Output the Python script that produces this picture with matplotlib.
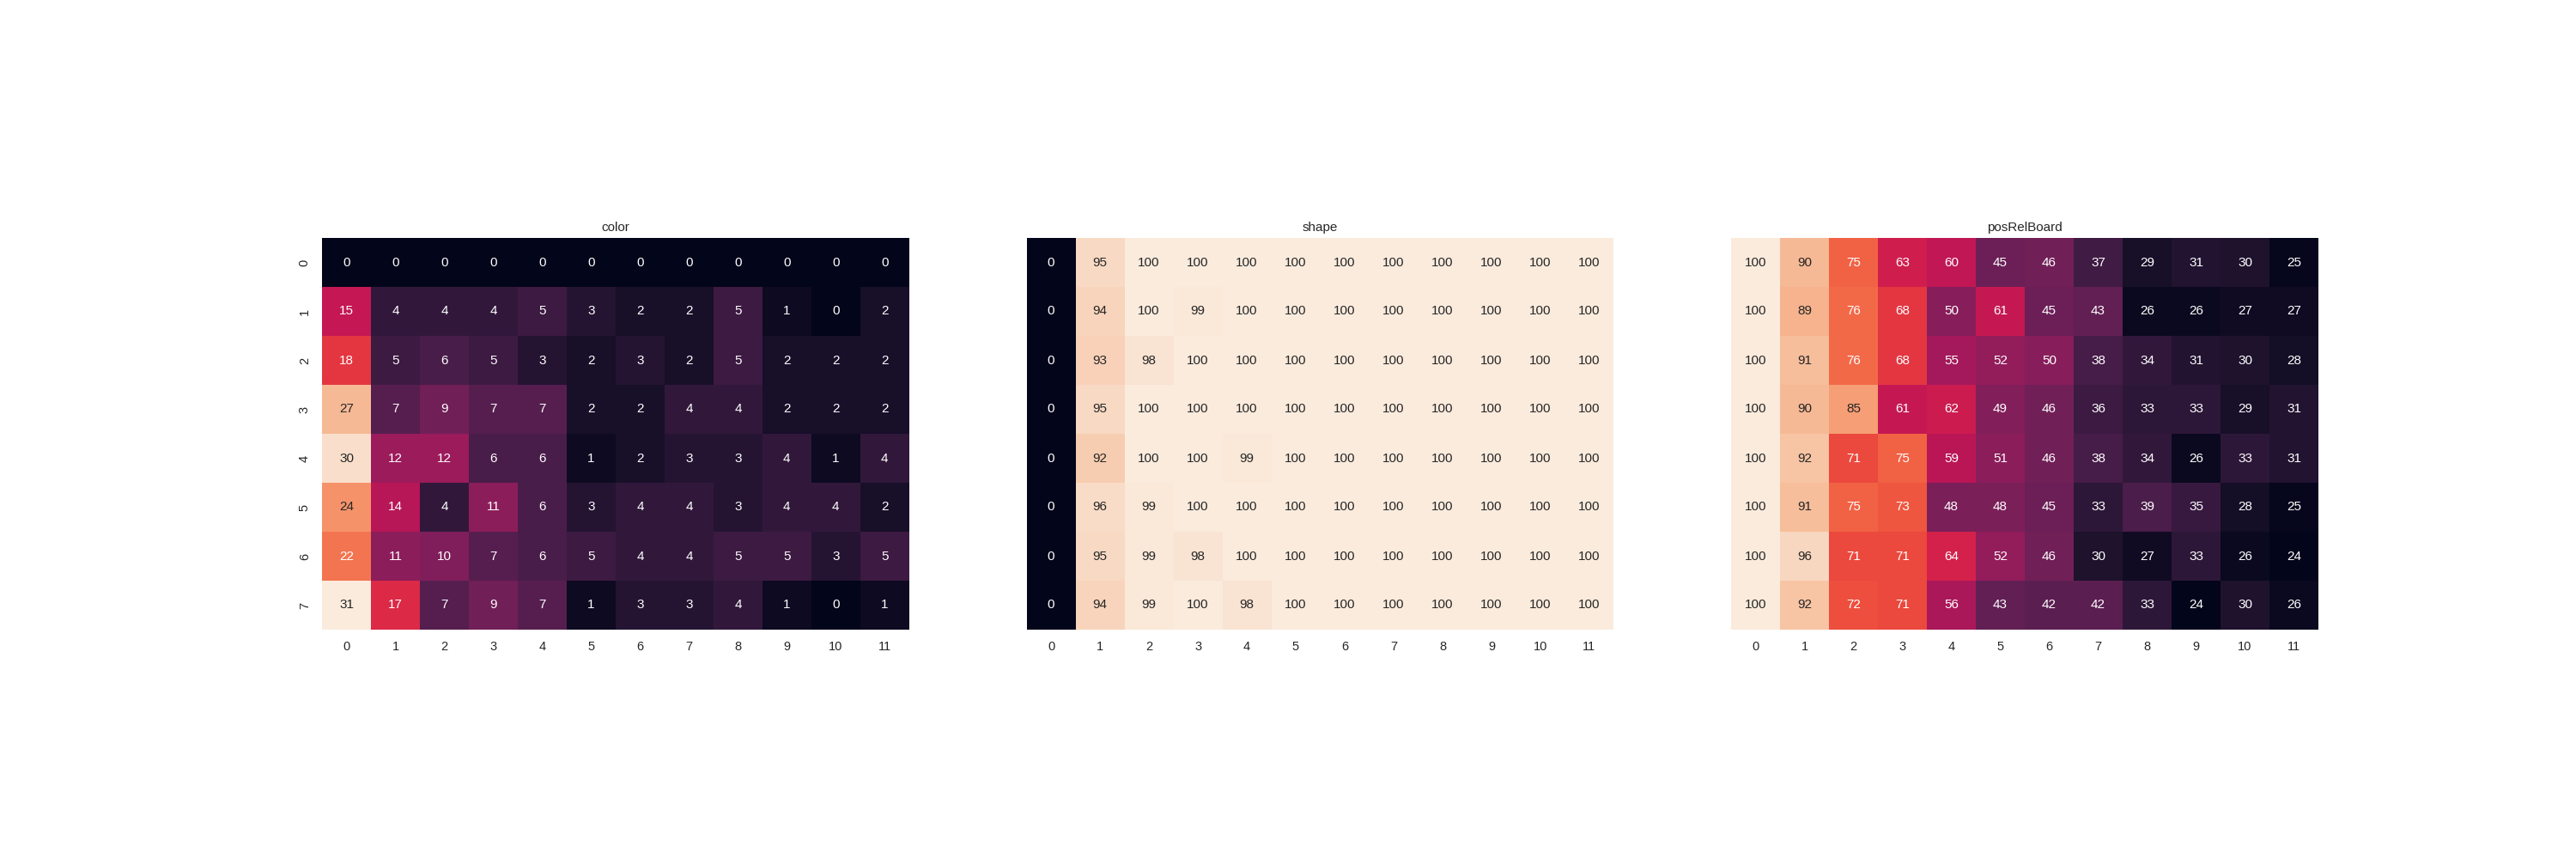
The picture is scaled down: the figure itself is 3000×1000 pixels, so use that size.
import matplotlib
matplotlib.use("Agg")
import matplotlib.pyplot as plt
import seaborn as sns
import numpy as np

sns.set_theme(style="white")
plt.rcParams['font.family'] = ['Liberation Sans', 'DejaVu Sans']

titles = ["color", "shape", "posRelBoard"]

color = [
    [0, 0, 0, 0, 0, 0, 0, 0, 0, 0, 0, 0],
    [15, 4, 4, 4, 5, 3, 2, 2, 5, 1, 0, 2],
    [18, 5, 6, 5, 3, 2, 3, 2, 5, 2, 2, 2],
    [27, 7, 9, 7, 7, 2, 2, 4, 4, 2, 2, 2],
    [30, 12, 12, 6, 6, 1, 2, 3, 3, 4, 1, 4],
    [24, 14, 4, 11, 6, 3, 4, 4, 3, 4, 4, 2],
    [22, 11, 10, 7, 6, 5, 4, 4, 5, 5, 3, 5],
    [31, 17, 7, 9, 7, 1, 3, 3, 4, 1, 0, 1],
]

shape = [
    [0, 95, 100, 100, 100, 100, 100, 100, 100, 100, 100, 100],
    [0, 94, 100, 99, 100, 100, 100, 100, 100, 100, 100, 100],
    [0, 93, 98, 100, 100, 100, 100, 100, 100, 100, 100, 100],
    [0, 95, 100, 100, 100, 100, 100, 100, 100, 100, 100, 100],
    [0, 92, 100, 100, 99, 100, 100, 100, 100, 100, 100, 100],
    [0, 96, 99, 100, 100, 100, 100, 100, 100, 100, 100, 100],
    [0, 95, 99, 98, 100, 100, 100, 100, 100, 100, 100, 100],
    [0, 94, 99, 100, 98, 100, 100, 100, 100, 100, 100, 100],
]

posRelBoard = [
    [100, 90, 75, 63, 60, 45, 46, 37, 29, 31, 30, 25],
    [100, 89, 76, 68, 50, 61, 45, 43, 26, 26, 27, 27],
    [100, 91, 76, 68, 55, 52, 50, 38, 34, 31, 30, 28],
    [100, 90, 85, 61, 62, 49, 46, 36, 33, 33, 29, 31],
    [100, 92, 71, 75, 59, 51, 46, 38, 34, 26, 33, 31],
    [100, 91, 75, 73, 48, 48, 45, 33, 39, 35, 28, 25],
    [100, 96, 71, 71, 64, 52, 46, 30, 27, 33, 26, 24],
    [100, 92, 72, 71, 56, 43, 42, 42, 33, 24, 30, 26],
]

fig, axes = plt.subplots(1, 3, figsize=(30, 10), dpi=100)
fig.subplots_adjust(left=0.125, right=0.9, bottom=0.267, top=0.723, wspace=0.2)

for i, (data, title) in enumerate(zip([color, shape, posRelBoard], titles)):
    ax = axes[i]
    sns.heatmap(np.array(data), ax=ax, annot=True, fmt="d", cbar=False,
                yticklabels=(i == 0), annot_kws={"fontsize": 11})
    ax.set_title(title, fontsize=11)
    ax.tick_params(labelsize=10.5)

fig.savefig("out.png", dpi=100)
